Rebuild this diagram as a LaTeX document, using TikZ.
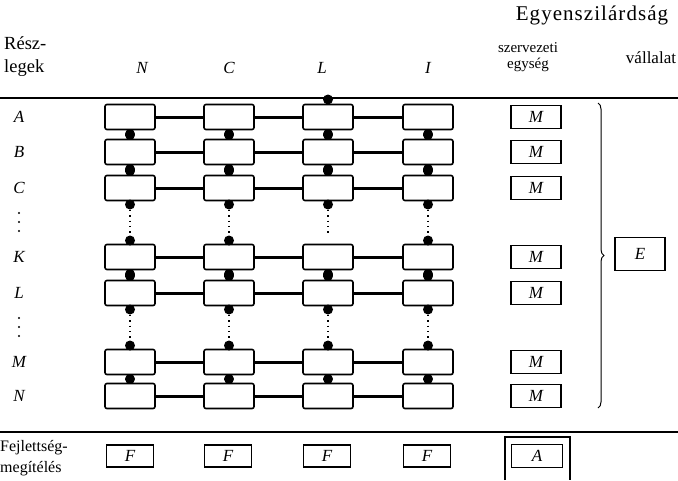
\documentclass[tikz,border=0pt]{standalone}
\usepackage{fontspec}
\setmainfont{Liberation Serif}
\usetikzlibrary{decorations.pathreplacing}
\begin{document}
\begin{tikzpicture}[x=1pt,y=-1pt,
  txt/.style={font=\fontsize{17}{19}\selectfont, inner sep=0pt},
  itxt/.style={font=\fontsize{17}{19}\selectfont\itshape, inner sep=0pt},
  gbox/.style={draw, line width=1.6pt, rounded corners=2pt, minimum width=50pt, minimum height=25pt, inner sep=0pt},
  mbox/.style={draw, line width=1.3pt, minimum width=50pt, minimum height=23pt, inner sep=0pt, font=\fontsize{17}{19}\selectfont\itshape},
  hconn/.style={line width=3pt},
  vconn/.style={line width=9.5pt, line cap=round, shorten <=3.5pt, shorten >=3.5pt},
  bigdot/.style={circle, fill, inner sep=0pt, minimum size=10pt},
  smalldot/.style={circle, fill, inner sep=0pt, minimum size=2.2pt},
  dotline/.style={line width=1.4pt, dash pattern=on 1.4pt off 4pt}
]
\useasboundingbox (0,0) rectangle (678,480);
% header
\node[txt, font=\fontsize{21}{23}\selectfont\addfontfeature{LetterSpace=5}] (egy) at (592,15) {Egyenszilárdság};
\node[txt, font=\fontsize{18.5}{23}\selectfont, anchor=west, align=left] (resz) at (4,57) {Rész-\\legek};
\node[itxt] (hN) at (142,68) {N};
\node[itxt] (hC) at (229,68) {C};
\node[itxt] (hL) at (322,68) {L};
\node[itxt] (hI) at (428,68) {I};
\node[txt, font=\fontsize{15}{16}\selectfont, align=center] (szerv) at (528,57) {szervezeti\\egység};
\node[txt] (vall) at (651,58) {vállalat};
\coordinate (tl0) at (0,98);
\coordinate (tl1) at (678,98);
\draw[line width=1.2pt] (tl0) -- (tl1);
% rows
\foreach \r/\y in {A/117,B/152,C/188,K/257,L/293,M/362,N/396}{
  \node[itxt] (lab\r) at (19,\y) {\r};
  \foreach \c/\x in {1/130,2/229,3/328,4/428}{
    \node[gbox] (b\r\c) at (\x,\y) {};
  }
  \draw[hconn] (b\r1) -- (b\r2);
  \draw[hconn] (b\r2) -- (b\r3);
  \draw[hconn] (b\r3) -- (b\r4);
  \node[mbox] (m\r) at (536,\y) {M};
}
% left vertical ellipses
\foreach \yy [count=\i] in {213,222,231,318,327,336}{
  \node[smalldot] (ld\i) at (19,\yy) {};
}
% vertical connectors
\foreach \c in {1,2,3,4}{
  \draw[vconn] (bA\c.south) -- (bB\c.north);
  \draw[vconn] (bB\c.south) -- (bC\c.north);
  \draw[vconn] (bK\c.south) -- (bL\c.north);
  \draw[vconn] (bM\c.south) -- (bN\c.north);
  \node[bigdot, anchor=north, yshift=2pt] (dc\c) at (bC\c.south) {};
  \node[bigdot, anchor=north, yshift=2pt] (dl\c) at (bL\c.south) {};
  \node[bigdot, anchor=south, yshift=-2pt] (dm\c) at (bM\c.north) {};
  \draw[dotline] (dl\c) -- (dm\c);
}
\foreach \c in {1,2,4}{
  \node[bigdot, anchor=south, yshift=-2pt] (dk\c) at (bK\c.north) {};
  \draw[dotline] (dc\c) -- (dk\c);
}
\coordinate (dkend) at (328,236);
\draw[dotline] (dc3) -- (dkend);
\node[bigdot] (dtop) at (328,99.5) {};
% brace and E
\draw[line width=1pt, decorate, decoration={brace, amplitude=6pt}] (598,103) -- (598,408);
\node[mbox, minimum height=33pt] (E) at (640,254) {E};
% bottom
\coordinate (bl0) at (0,432);
\coordinate (bl1) at (678,432);
\draw[line width=1.2pt] (bl0) -- (bl1);
\node[txt, font=\fontsize{16}{21}\selectfont, anchor=west, align=left] (fej) at (0,458) {Fejlettség-\\megítélés};
\foreach \c/\x in {1/130,2/228,3/327,4/427}{
  \node[mbox, minimum width=47pt, minimum height=22pt] (F\c) at (\x,456) {F};
}
\node[mbox, minimum width=51pt] (Abox) at (537,456) {A};
\draw[line width=1.2pt] (505,480) -- (505,437) -- (570,437) -- (570,480);
\end{tikzpicture}
\end{document}
